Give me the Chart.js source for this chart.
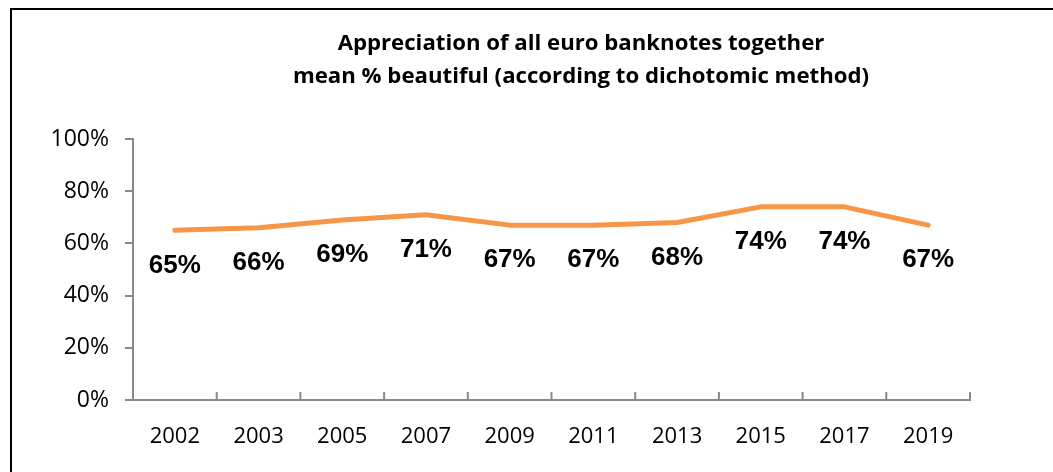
<!DOCTYPE html>
<html>
<head>
<meta charset="utf-8">
<script src="https://cdn.jsdelivr.net/npm/chart.js@4"></script>
<style>
html,body{margin:0;padding:0;background:#fff;overflow:hidden;}
#wrap{position:absolute;left:0;top:0;width:1053px;height:472px;}
#frame{position:absolute;left:10px;top:8px;width:1060px;height:480px;border-left:2px solid #000;border-top:2px solid #000;pointer-events:none;}
</style>
</head>
<body>
<div id="wrap"><canvas id="c" width="1053" height="472"></canvas></div>
<div id="frame"></div>
<script>
const categories = ['2002','2003','2005','2007','2009','2011','2013','2015','2017','2019'];
const values = [65, 66, 69, 71, 67, 67, 68, 74, 74, 67];
const valueLabels = ['65%','66%','69%','71%','67%','67%','68%','74%','74%','67%'];
const titleLines = ['Appreciation of all euro banknotes together','mean % beautiful (according to dichotomic method)'];
const yTicks = [0, 20, 40, 60, 80, 100];

const axisColor = '#898989';

const titlePlugin = {
  id: 'centeredTitle',
  afterDraw(chart) {
    const ctx = chart.ctx;
    ctx.save();
    ctx.font = 'bold 22.2px "Open Sans", sans-serif';
    ctx.fillStyle = '#000';
    ctx.textAlign = 'center';
    ctx.textBaseline = 'middle';
    titleLines.forEach((t, i) => ctx.fillText(t, 581, 44 + i * 33));
    ctx.restore();
  }
};

const labelPlugin = {
  id: 'pointLabels',
  afterDatasetsDraw(chart) {
    const ctx = chart.ctx;
    const meta = chart.getDatasetMeta(0);
    ctx.save();
    ctx.font = 'bold 26px "Liberation Sans", Arial, sans-serif';
    ctx.fillStyle = '#000';
    ctx.textAlign = 'center';
    ctx.textBaseline = 'middle';
    meta.data.forEach((pt, i) => {
      ctx.fillText(valueLabels[i], pt.x, pt.y + 35);
    });
    ctx.restore();
  }
};

const xTickPlugin = {
  id: 'xInsideTicks',
  afterDraw(chart) {
    const xs = chart.scales.x;
    const ctx = chart.ctx;
    const n = categories.length;
    const step = (xs.getPixelForValue(1) - xs.getPixelForValue(0));
    ctx.save();
    ctx.strokeStyle = axisColor;
    ctx.lineWidth = 2;
    const y = xs.top;
    for (let i = 0; i < n; i++) {
      const xp = xs.getPixelForValue(i) + step / 2;
      ctx.beginPath();
      ctx.moveTo(xp, y);
      ctx.lineTo(xp, y - 8);
      ctx.stroke();
    }
    ctx.restore();
  }
};

new Chart(document.getElementById('c'), {
  type: 'line',
  data: {
    labels: categories,
    datasets: [{
      data: values,
      borderColor: '#F79646',
      borderWidth: 5,
      borderCapStyle: 'round',
      borderJoinStyle: 'round',
      pointRadius: 0,
      tension: 0,
      fill: false
    }]
  },
  options: {
    responsive: false,
    animation: false,
    devicePixelRatio: 1,
    layout: { padding: { left: 0, right: 83, top: 139, bottom: 0 } },
    plugins: {
      legend: { display: false },
      tooltip: { enabled: false },
      title: { display: false }
    },
    scales: {
      x: {
        type: 'category',
        offset: true,
        grid: { display: true, drawOnChartArea: false, drawTicks: false, color: axisColor },
        border: { display: true, color: axisColor, width: 2 },
        ticks: {
          color: '#000',
          font: { family: '"Open Sans", sans-serif', size: 22 },
          padding: 24,
          maxRotation: 0,
          autoSkip: false
        },
        afterFit(axis) { axis.height = 72; }
      },
      y: {
        min: 0,
        max: 100,
        afterBuildTicks(axis) { axis.ticks = yTicks.map(v => ({ value: v })); },
        grid: { display: true, drawOnChartArea: false, drawTicks: true, tickLength: 8, color: axisColor, lineWidth: 2 },
        border: { display: true, color: axisColor, width: 2 },
        ticks: {
          color: '#000',
          font: { family: '"Open Sans", sans-serif', size: 23 },
          padding: 16,
          callback: v => v + '%'
        },
        afterFit(axis) { axis.width = 133; }
      }
    }
  },
  plugins: [labelPlugin, xTickPlugin, titlePlugin]
});
</script>
</body>
</html>
